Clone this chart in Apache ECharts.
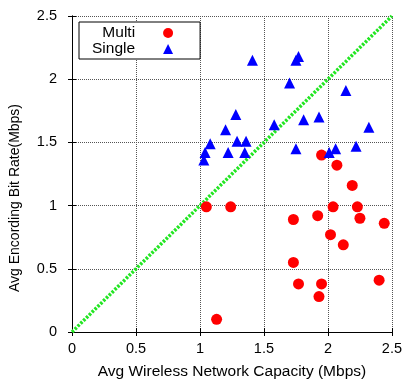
<!DOCTYPE html>
<html>
<head>
<meta charset="utf-8">
<script src="https://cdn.jsdelivr.net/npm/echarts@6/dist/echarts.min.js"></script>
<style>html,body{margin:0;padding:0;background:#fff;}#chart{width:405px;height:385px;}</style>
</head>
<body>
<div id="chart"></div>
<script>
var seriesNames = ['Multi', 'Single'];
var multiCapacity = [1.05, 1.24, 1.73, 1.92, 1.95, 2.07, 2.19, 2.04, 2.23, 2.25, 2.44, 2.02, 2.12, 1.73, 1.77, 1.95, 1.93, 2.40, 1.13];
var multiBitrate  = [0.99, 0.99, 0.89, 0.92, 1.40, 1.32, 1.16, 0.99, 0.99, 0.90, 0.86, 0.77, 0.69, 0.55, 0.38, 0.38, 0.28, 0.41, 0.10];
var singleCapacity = [1.41, 1.77, 1.75, 1.70, 2.14, 1.28, 1.81, 1.93, 1.58, 2.32, 1.20, 1.08, 1.29, 1.36, 1.04, 1.22, 1.35, 1.03, 1.75, 2.01, 2.06, 2.22];
var singleBitrate  = [2.15, 2.18, 2.15, 1.97, 1.91, 1.72, 1.68, 1.70, 1.64, 1.62, 1.60, 1.49, 1.51, 1.51, 1.42, 1.42, 1.42, 1.36, 1.45, 1.42, 1.45, 1.47];
var refLine = [[0, 0], [2.5, 2.5]];
var axisTicks = [0, 0.5, 1, 1.5, 2, 2.5];

function zip(a, b) { return a.map(function (v, i) { return [v, b[i]]; }); }

var FONT = '"Liberation Sans", Arial, sans-serif';
var chart = echarts.init(document.getElementById('chart'), null, {renderer: 'canvas'});

function mainAxis(name, pos, gap, margin, nameSize, namePad) {
  return {
    type: 'value', position: pos, min: axisTicks[0], max: axisTicks[axisTicks.length - 1], interval: 0.5,
    name: name, nameLocation: 'middle', nameGap: gap,
    nameTextStyle: {fontFamily: FONT, fontSize: nameSize, color: '#000', padding: namePad},
    axisLine: {show: true, lineStyle: {color: '#000', width: 1}},
    axisTick: {show: true, inside: true, length: 4, lineStyle: {color: '#000'}},
    axisLabel: {fontFamily: FONT, fontSize: 14.5, color: '#000', margin: margin,
      formatter: function (v) { return String(v); }},
    splitLine: {show: true, lineStyle: {color: '#555', type: [1, 1], width: 1}}
  };
}
function mirrorAxis(pos) {
  return {
    type: 'value', position: pos, min: axisTicks[0], max: axisTicks[axisTicks.length - 1], interval: 0.5,
    axisLine: {show: true, lineStyle: {color: '#000', width: 1}},
    axisTick: {show: true, inside: true, length: 4, lineStyle: {color: '#000'}},
    axisLabel: {show: false}, splitLine: {show: false}
  };
}

chart.setOption({
  animation: false,
  backgroundColor: '#fff',
  grid: {left: 71, right: 12, top: 16, bottom: 46},
  xAxis: [mainAxis('Avg Wireless Network Capacity (Mbps)', 'bottom', 32, 9, 15.5, 0), mirrorAxis('top')],
  yAxis: [mainAxis('Avg Encording Bit Rate(Mbps)', 'left', 50, 15, 14, [0, 48, 0, 0]), mirrorAxis('right')],
  legend: {
    left: 79, top: 22, orient: 'vertical', align: 'right',
    data: [{name: seriesNames[0], icon: 'circle'}, {name: seriesNames[1], icon: 'triangle'}],
    itemWidth: 10, itemHeight: 10, itemGap: 0,
    padding: [3, 27, 2, 13],
    backgroundColor: '#fff', borderColor: '#000', borderWidth: 1, borderRadius: 0,
    textStyle: {fontFamily: FONT, fontSize: 15.5, color: '#000', lineHeight: 12, padding: [0, 23, 0, 0]}
  },
  series: [
    {
      type: 'line', data: refLine, symbol: 'none', silent: true, z: 1,
      lineStyle: {color: '#22e622', width: 3.5, type: [2.5, 1.5]}
    },
    {
      name: seriesNames[0], type: 'scatter', data: zip(multiCapacity, multiBitrate),
      symbol: 'circle', symbolSize: 11, itemStyle: {color: '#ff0000', opacity: 1}, z: 3
    },
    {
      name: seriesNames[1], type: 'scatter', data: zip(singleCapacity, singleBitrate),
      symbol: 'triangle', symbolSize: 11, itemStyle: {color: '#0000ff', opacity: 1}, z: 3
    }
  ]
});
</script>
</body>
</html>
